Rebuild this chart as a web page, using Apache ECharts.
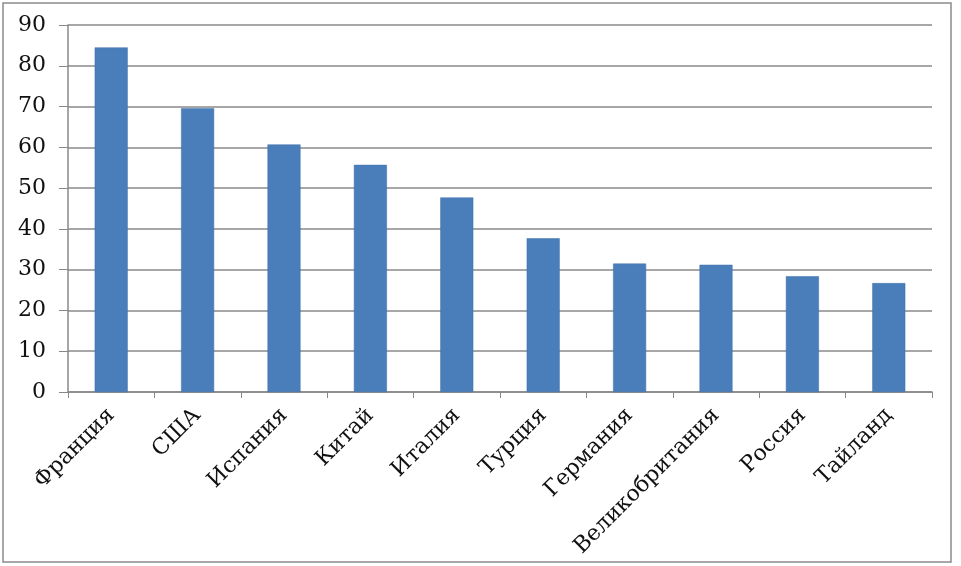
<!DOCTYPE html>
<html>
<head>
<meta charset="utf-8">
<script src="https://cdn.jsdelivr.net/npm/echarts@6/dist/echarts.min.js"></script>
<style>
html, body { margin: 0; padding: 0; background: #fff; }
#main { width: 961px; height: 566px; }
</style>
</head>
<body>
<div id="main"></div>
<script>
var countries = ['Франция', 'США', 'Испания', 'Китай', 'Италия', 'Турция', 'Германия', 'Великобритания', 'Россия', 'Тайланд']
var arrivals = [84.5, 69.6, 60.7, 55.7, 47.7, 37.7, 31.5, 31.2, 28.4, 26.7]

var chart = echarts.init(document.getElementById('main'))
var option = {
  animation: false,
  textStyle: { fontFamily: '"DejaVu Serif", serif' },
  graphic: [
    {
      type: 'rect',
      shape: { x: 3, y: 3, width: 948, height: 559 },
      style: { fill: 'none', stroke: '#8c8c8c', lineWidth: 1.5 },
    },
  ],
  grid: { left: 68, right: 29, top: 25, bottom: 174 },
  xAxis: {
    type: 'category',
    data: countries,
    axisLine: { show: true, lineStyle: { color: '#888', width: 1.5 } },
    axisTick: { show: true, length: 6, lineStyle: { color: '#888' } },
    axisLabel: {
      rotate: 45,
      margin: 20,
      color: '#111',
      fontSize: 22,
      fontFamily: '"DejaVu Serif", serif',
      interval: 0,
    },
  },
  yAxis: {
    type: 'value',
    min: 0,
    max: 90,
    interval: 10,
    axisLine: { show: true, lineStyle: { color: '#888', width: 1.5 } },
    axisTick: { show: true, length: 9, lineStyle: { color: '#888' } },
    axisLabel: {
      margin: 22,
      color: '#111',
      fontSize: 22,
      fontFamily: '"DejaVu Serif", serif',
    },
    splitLine: { show: true, lineStyle: { color: '#8a8a8a', width: 1.5 } },
  },
  series: [
    {
      type: 'bar',
      data: arrivals,
      barWidth: 33,
      itemStyle: { color: '#4a7ebb', borderColor: '#3f6fa8', borderWidth: 0.5 },
    },
  ],
}
chart.setOption(option)
</script>
</body>
</html>
